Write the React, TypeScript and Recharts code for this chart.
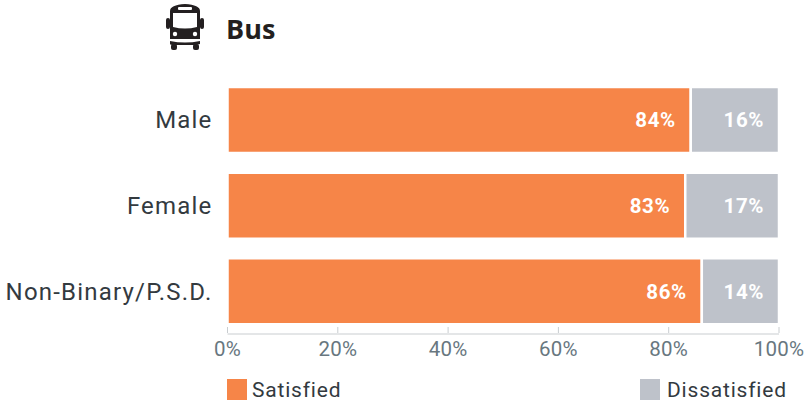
import React from 'react';
import { BarChart, Bar, XAxis, YAxis, Legend, LabelList } from 'recharts';

const categories = ['Male', 'Female', 'Non-Binary/P.S.D.'];
const satisfied = [84, 83, 86];
const dissatisfied = [16, 17, 14];
const xTicks = [0, 20, 40, 60, 80, 100];

const data = categories.map((name, i) => ({ name, satisfied: satisfied[i], dissatisfied: dissatisfied[i] }));

const ORANGE = '#f68548';
const GREY = '#bec2ca';
const FONT = 'Roboto, sans-serif';

const XTick = ({ x, y, payload }: any) => (
  <g>
    <line x1={x} x2={x} y1={327} y2={333} stroke="#c9cdd0" strokeWidth={1} />
    <text x={x} y={356} textAnchor="middle" fontFamily={FONT} fontSize={20.5} letterSpacing={0.2} fill="#68777f">
      {payload.value}%
    </text>
  </g>
);

const LegendRow = () => (
  <div style={{ position: 'relative', width: 804, height: 22, fontFamily: FONT, fontSize: 21, letterSpacing: 0.8, color: '#333a3f' }}>
    <div style={{ position: 'absolute', left: 227, top: 0, width: 20, height: 21, background: ORANGE }} />
    <div style={{ position: 'absolute', left: 252, top: -2, lineHeight: '26px' }}>Satisfied</div>
    <div style={{ position: 'absolute', left: 640, top: 0, width: 20, height: 21, background: GREY }} />
    <div style={{ position: 'absolute', left: 667, top: -2, lineHeight: '26px' }}>Dissatisfied</div>
  </div>
);

const BusIcon = () => (
  <svg width="40" height="50" viewBox="0 0 40 50" style={{ position: 'absolute', left: 165, top: 2 }}>
    <rect x="1" y="16" width="4" height="11" rx="2" fill="#231f20" />
    <rect x="35" y="16" width="4" height="11" rx="2" fill="#231f20" />
    <path d="M5 9 Q5 3 20 2 Q35 3 35 9 V37 H5 Z" fill="#231f20" />
    <rect x="13" y="5" width="14" height="3" rx="1" fill="#fff" />
    <path d="M8 11 H32 V25 Q20 28 8 25 Z" fill="#fff" />
    <circle cx="10" cy="32" r="2.2" fill="#fff" />
    <circle cx="30" cy="32" r="2.2" fill="#fff" />
    <path d="M5 39 Q20 42 35 39 V42 Q30 43 30 43 H10 Q5 43 5 42 Z" fill="#231f20" />
    <rect x="6" y="42" width="6" height="6" rx="2" fill="#231f20" />
    <rect x="28" y="42" width="6" height="6" rx="2" fill="#231f20" />
  </svg>
);

const labelStyle = { fill: '#fff', fontFamily: FONT, fontSize: 20.5, fontWeight: 700, letterSpacing: 0.6 };

export default function App() {
  return (
    <div style={{ position: 'absolute', left: 0, top: 0, width: 804, height: 401, background: '#fff', overflow: 'hidden' }}>
      <BusIcon />
      <div style={{ position: 'absolute', left: 226, top: 10, fontFamily: '"Open Sans", sans-serif', fontWeight: 700, fontSize: 27, lineHeight: '38px', color: '#231f20' }}>
        Bus
      </div>
      <BarChart
        width={804}
        height={401}
        data={data}
        layout="vertical"
        barCategoryGap={10}
        margin={{ top: 77, right: 25, bottom: 0, left: 0 }}
      >
        <XAxis
          type="number"
          domain={[0, 100]}
          ticks={xTicks}
          height={45}
          stroke="#c9cdd0"
          tickLine={false}
          tick={<XTick />}
          interval={0}
        />
        <YAxis
          type="category"
          dataKey="name"
          width={227.5}
          axisLine={false}
          tickLine={false}
          tickMargin={9}
          tick={{ fontFamily: FONT, fontSize: 24, fill: '#333a3f', letterSpacing: 1.2 }}
        />
        <Legend
          verticalAlign="bottom"
          content={<LegendRow />}
          wrapperStyle={{ left: 0, bottom: 0, top: 379, width: 804 }}
        />
        <Bar dataKey="satisfied" stackId="a" fill={ORANGE} stroke="#fff" strokeWidth={2.5} isAnimationActive={false}>
          <LabelList dataKey="satisfied" position="insideRight" offset={15} formatter={(v: any) => `${v}%`} style={labelStyle} />
        </Bar>
        <Bar dataKey="dissatisfied" stackId="a" fill={GREY} stroke="#fff" strokeWidth={2.5} isAnimationActive={false}>
          <LabelList dataKey="dissatisfied" position="insideRight" offset={15} formatter={(v: any) => `${v}%`} style={labelStyle} />
        </Bar>
      </BarChart>
    </div>
  );
}
